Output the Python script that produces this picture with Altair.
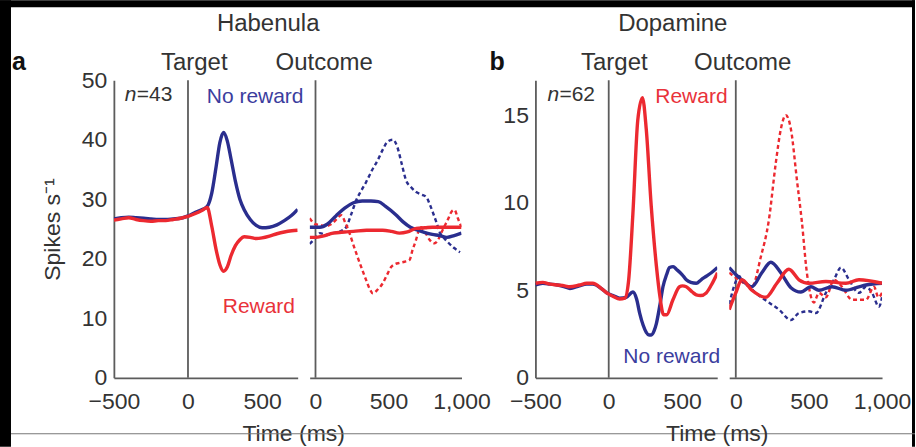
import altair as alt
import pandas as pd

# ---------------- data ----------------
# Panel a (Habenula), aligned on target
a_tgt_t = [-500, -450, -400, -350, -300, -250, -200, -150, -100, -50, 0, 50, 100, 130,
           160, 190, 215, 240, 265, 290, 320, 350, 380, 420, 460, 500, 550, 600, 650, 700, 740]
a_tgt_noreward = [26.7, 26.9, 27.0, 26.9, 26.8, 26.7, 26.6, 26.6, 26.7, 26.8, 27.2, 27.8, 28.3, 28.8,
                  31.0, 35.5, 39.5, 41.2, 39.8, 36.8, 33.0, 30.0, 28.2, 26.6, 25.6, 25.2, 25.3, 25.7,
                  26.4, 27.3, 28.3]
a_tgt_reward = [26.5, 26.7, 26.9, 26.6, 26.4, 26.3, 26.4, 26.4, 26.6, 26.8, 27.1, 27.6, 28.2, 28.6,
                25.5, 21.5, 19.0, 17.9, 18.6, 20.5, 22.2, 23.2, 23.7, 23.6, 23.4, 23.5, 23.8, 24.2,
                24.5, 24.7, 24.8]

# Panel a, aligned on outcome
a_out_nr_t = [-40, 0, 30, 80, 140, 200, 260, 320, 380, 430, 480, 550, 600, 650, 700, 750, 800, 850,
              900, 950, 1000]
a_out_nr = [25.3, 25.3, 25.3, 25.8, 27.2, 28.5, 29.4, 29.7, 29.7, 29.6, 28.8, 27.4, 26.2, 25.3, 24.8,
            24.4, 24.1, 23.9, 23.6, 23.9, 24.3]
a_out_r_t = [-40, 0, 50, 120, 200, 260, 350, 460, 520, 575, 630, 690, 750, 800, 900, 1000]
a_out_r = [23.6, 23.6, 23.8, 24.3, 24.5, 24.6, 24.8, 24.8, 24.6, 24.3, 24.5, 25.1, 25.2, 25.3, 25.3, 25.3]
a_out_nr_dash_t = [-40, 0, 30, 80, 120, 170, 210, 245, 280, 315, 347, 390, 427, 460, 495, 530, 560,
                   590, 620, 655, 690, 725, 758, 785, 805, 830, 850, 880, 906, 950, 990]
a_out_nr_dash = [22.5, 23.5, 24.3, 24.0, 24.3, 24.6, 25.3, 27.5, 29.9, 31.5, 32.9, 35.0, 36.6, 38.3,
                 39.7, 40.0, 38.8, 36.0, 33.2, 32.0, 31.2, 30.8, 30.4, 29.0, 27.7, 26.0, 24.5, 23.5,
                 22.8, 21.8, 21.1]
a_out_r_dash_t = [-40, 0, 27, 70, 119, 150, 176, 205, 233, 260, 288, 318, 347, 370, 393, 425, 461, 490,
                  518, 545, 575, 610, 644, 665, 689, 705, 724, 750, 781, 815, 840, 870, 905, 935, 952,
                  975, 1000]
a_out_r_dash = [26.8, 25.8, 25.7, 25.5, 26.0, 26.8, 27.3, 26.0, 24.3, 22.3, 20.3, 18.3, 16.4, 15.0, 14.2,
                14.8, 15.9, 17.3, 18.6, 19.1, 19.3, 19.5, 19.8, 21.5, 23.2, 24.6, 25.3, 24.5, 23.2, 22.6,
                23.2, 24.8, 26.5, 28.0, 28.2, 26.8, 25.3]

# Panel b (Dopamine), aligned on target
b_tgt_nr_t = [-500, -450, -400, -350, -300, -265, -200, -150, -109, -50, -14, 30, 75, 120, 165, 190,
              211, 235, 256, 275, 290, 310, 325, 350, 370, 395, 415, 440, 461, 500, 529, 560, 597,
              630, 665, 700, 742]
b_tgt_nr = [5.3, 5.4, 5.35, 5.3, 5.2, 5.1, 5.25, 5.35, 5.35, 5.1, 4.85, 4.7, 4.55, 4.6, 4.9, 4.5, 3.7,
            3.0, 2.6, 2.45, 2.45, 2.7, 3.1, 4.2, 5.2, 5.9, 6.3, 6.35, 6.2, 5.9, 5.6, 5.45, 5.4, 5.6,
            5.8, 6.0, 6.3]
b_tgt_r_t = [-500, -450, -400, -350, -300, -265, -200, -150, -109, -50, -14, 30, 75, 110, 135, 165,
             198, 230, 256, 290, 325, 350, 374, 395, 438, 483, 503, 529, 570, 597, 626, 665, 700, 742]
b_tgt_r = [5.4, 5.45, 5.35, 5.3, 5.25, 5.2, 5.3, 5.4, 5.4, 5.1, 4.85, 4.65, 4.5, 4.55, 5.5, 9.4, 14.7,
           16.0, 14.2, 9.8, 6.4, 4.6, 3.6, 3.6, 4.46, 5.2, 5.25, 5.2, 4.9, 4.74, 4.7, 4.85, 5.3, 6.0]

# Panel b, aligned on outcome
b_out_nr_t = [-45, 0, 41, 110, 178, 240, 308, 377, 445, 514, 568, 658, 753, 842, 890, 1000]
b_out_nr = [6.3, 5.9, 5.6, 5.2, 6.0, 6.6, 6.0, 5.15, 4.9, 5.2, 5.0, 5.2, 5.0, 5.2, 5.3, 5.4]
b_out_r_t = [-45, 0, 41, 110, 205, 281, 363, 432, 500, 616, 753, 842, 1000]
b_out_r = [3.9, 4.85, 5.6, 5.0, 4.6, 5.4, 6.2, 5.6, 5.4, 5.5, 5.4, 5.6, 5.4]
b_out_r_dash_t = [-45, 21, 110, 171, 226, 274, 308, 342, 377, 418, 452, 486, 534, 568, 616, 671, 726,
                  795, 890, 945, 975, 1000]
b_out_r_dash = [6.0, 5.6, 5.2, 6.9, 9.0, 12.3, 14.2, 15.0, 14.2, 11.3, 8.9, 6.0, 4.3, 4.85, 4.6, 5.6,
                5.2, 4.46, 4.46, 5.2, 4.6, 4.85]
b_out_nr_dash_t = [-45, 0, 20, 68, 137, 226, 295, 377, 432, 500, 548, 616, 671, 719, 774, 842, 890,
                   932, 979, 1000]
b_out_nr_dash = [4.2, 5.5, 5.8, 5.4, 4.85, 4.3, 3.9, 3.3, 3.7, 3.8, 3.7, 4.85, 5.6, 6.3, 5.6, 4.85, 5.2,
                 4.85, 4.06, 4.6]

# axis tick values
tgt_ticks = [-500, 0, 500]
out_ticks = [0, 500, 1000]
a_yticks = [0, 10, 20, 30, 40, 50]
b_yticks = [0, 5, 10, 15]

# ---------------- styling ----------------
FONT = "Liberation Sans"
BLUE = "#2a2e8e"
RED = "#ec2930"
BLUE_TXT = "#3b3d9e"
RED_TXT = "#e9323a"
AXIS = "#5c5c5c"
TXT = "#333333"

one = pd.DataFrame({"k": [0]})


def line(t, v, color, dashed, xs, ys):
    df = pd.DataFrame({"t": t, "rate": v})
    kw = dict(interpolate="monotone", color=color, clip=True)
    if dashed:
        kw.update(strokeWidth=2.4, strokeDash=[4, 3])
    else:
        kw.update(strokeWidth=3.4)
    return alt.Chart(df).mark_line(**kw).encode(
        x=alt.X("t:Q", scale=xs),
        y=alt.Y("rate:Q", scale=ys),
    )


def text(s, x, y, size=21, color=TXT, align="left", weight="normal", style="normal"):
    return alt.Chart(one).mark_text(
        text=s, align=align, baseline="alphabetic", font=FONT, fontSize=size,
        color=color, fontWeight=weight, fontStyle=style,
    ).encode(x=alt.value(x), y=alt.value(y))


def rect(x1, x2, y1, y2, color):
    return alt.Chart(one).mark_rect(color=color).encode(
        x=alt.value(x1), x2=alt.value(x2), y=alt.value(y1), y2=alt.value(y2))


def hline(x1, x2, y, color):
    return alt.Chart(one).mark_rule(color=color, strokeWidth=1.2).encode(
        x=alt.value(x1), x2=alt.value(x2), y=alt.value(y))


def base_layer(xdom, xvals, ydom, yvals, yaxis_on, ytitle=None):
    xs = alt.Scale(domain=xdom, nice=False, zero=False)
    ys = alt.Scale(domain=ydom, nice=False, zero=False)
    xaxis = alt.Axis(values=xvals, format=",d", title=None, grid=False, ticks=False,
                     labelFlush=False, labelOverlap=False, labelPadding=13, labelFontSize=23,
                     labelFont=FONT, labelColor=TXT, domainColor=AXIS, domainWidth=1.8)
    if yaxis_on:
        yaxis = alt.Axis(values=yvals, title=ytitle, grid=False, ticks=False, labelFlush=False,
                         labelOverlap=False, labelPadding=7, labelFontSize=23, labelFont=FONT,
                         labelColor=TXT, domainColor=AXIS, domainWidth=1.8,
                         titleFont=FONT, titleFontSize=23, titleFontWeight="normal",
                         titleColor=TXT, titlePadding=17)
    else:
        yaxis = None
    # axes carrier: vertical event line at t = 0
    rule = alt.Chart(one).mark_rule(color=AXIS, strokeWidth=1.8).encode(
        x=alt.X("z:Q", scale=xs, axis=xaxis),
        y=alt.Y("z0:Q", scale=ys, axis=yaxis),
        y2=alt.Y2("z1:Q"),
    ).transform_calculate(z="0", z0=str(ydom[0]), z1=str(ydom[1]))
    return xs, ys, rule


H = 298

# ---- panel a, target ----
xs, ys, rule = base_layer([-500, 740], tgt_ticks, [0, 50], a_yticks, True, "Spikes s\u207b\u00b9")
a_t = alt.layer(
    rule,
    line(a_tgt_t, a_tgt_noreward, BLUE, False, xs, ys),
    line(a_tgt_t, a_tgt_reward, RED, False, xs, ys),
    text("Habenula", 154.5, -49, size=24, align="center"),
    text("a", -102, -10, size=25, weight="bold", color="#111111"),
    text("Target", 80.5, -10, size=24, align="center"),
    text("Outcome", 210.5, -10, size=24, align="center"),
    text("n", 11, 21, style="italic"),
    text("=43", 23, 21),
    text("No reward", 93, 23, color=BLUE_TXT),
    text("Reward", 109, 233, color=RED_TXT),
    text("Time (ms)", 180, 361, size=23, align="center"),
    # scan border of the original figure
    rect(-114, 802, -80, -73, "#000000"),
    rect(-114, -103, -80, 367, "#000000"),
    rect(799, 802, -80, 367, "#000000"),
    hline(-103, 802, 354, "#777777"),
).properties(width=184, height=H)

# ---- panel a, outcome ----
xs, ys, rule = base_layer([-40, 1000], out_ticks, [0, 50], a_yticks, False)
a_o = alt.layer(
    rule,
    line(a_out_nr_dash_t, a_out_nr_dash, BLUE, True, xs, ys),
    line(a_out_r_dash_t, a_out_r_dash, RED, True, xs, ys),
    line(a_out_nr_t, a_out_nr, BLUE, False, xs, ys),
    line(a_out_r_t, a_out_r, RED, False, xs, ys),
).properties(width=152, height=H)

spacer = alt.Chart(one).mark_point(opacity=0).encode(
    x=alt.value(0), y=alt.value(0)).properties(width=50, height=H)

# ---- panel b, target ----
xs, ys, rule = base_layer([-500, 740], tgt_ticks, [0, 17], b_yticks, True)
b_t = alt.layer(
    rule,
    line(b_tgt_nr_t, b_tgt_nr, BLUE, False, xs, ys),
    line(b_tgt_r_t, b_tgt_r, RED, False, xs, ys),
    text("Dopamine", 137.5, -49, size=24, align="center"),
    text("b", -46, -10, size=25, weight="bold", color="#111111"),
    text("Target", 79, -10, size=24, align="center"),
    text("Outcome", 207.5, -10, size=24, align="center"),
    text("n", 12, 21, style="italic"),
    text("=62", 24, 21),
    text("Reward", 120, 23, color=RED_TXT),
    text("No reward", 88, 283, color=BLUE_TXT),
    text("Time (ms)", 182, 361, size=23, align="center"),
).properties(width=182, height=H)

# ---- panel b, outcome ----
xs, ys, rule = base_layer([-45, 1000], out_ticks, [0, 17], b_yticks, False)
b_o = alt.layer(
    rule,
    line(b_out_nr_dash_t, b_out_nr_dash, BLUE, True, xs, ys),
    line(b_out_r_dash_t, b_out_r_dash, RED, True, xs, ys),
    line(b_out_nr_t, b_out_nr, BLUE, False, xs, ys),
    line(b_out_r_t, b_out_r, RED, False, xs, ys),
).properties(width=153, height=H)

chart = alt.hconcat(
    a_t, a_o, spacer, b_t, b_o, spacing=12, bounds="flush"
).resolve_scale(
    x="independent", y="independent"
).properties(
    padding=0, background="white"
).configure_view(strokeWidth=0)

chart.save("out.html", embed_options={"renderer": "svg", "actions": False})
